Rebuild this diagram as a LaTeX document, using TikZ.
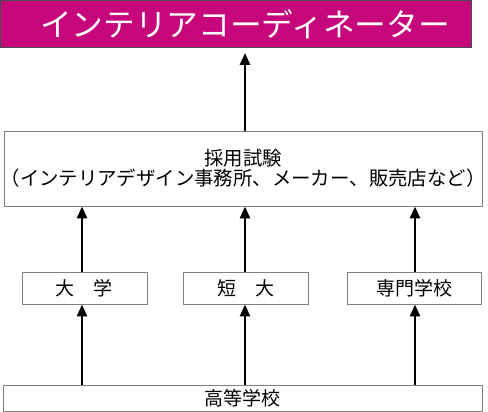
\documentclass[tikz,border=0pt]{standalone}
\usepackage{fontspec}
\setmainfont{Noto Sans CJK JP}
\usetikzlibrary{arrows.meta}
\definecolor{titlemag}{HTML}{C6077B}
\definecolor{boxline}{HTML}{808080}
\begin{document}
\begin{tikzpicture}[x=1pt,y=-1pt,
  box/.style={draw=boxline, line width=0.9pt, fill=white, inner sep=0pt, align=center,
    font=\fontsize{19}{21}\selectfont},
  arr/.style={line width=2.6pt, -{Triangle[width=10pt,length=12pt]}}]
\useasboundingbox (0,0) rectangle (488,412);
\node[box, fill=titlemag, draw=black!70, minimum width=471pt, minimum height=47pt,
  text=white, font=\fontsize{31.7}{34}\selectfont] (title) at (236,24)
  {\hspace*{18pt}インテリアコーディネーター};
\node[box, minimum width=478pt, minimum height=75pt, font=\fontsize{19.4}{20.5}\selectfont] (saiyo) at (243,168.5)
  {採用試験\\\makebox[0pt]{（インテリアデザイン事務所、メーカー、販売店など）}};
\node[box, minimum width=125pt, minimum height=32pt] (daigaku) at (84.5,288) {大　学};
\node[box, minimum width=125pt, minimum height=32pt] (tandai) at (245.5,288) {短　大};
\node[box, minimum width=134pt, minimum height=32pt] (senmon) at (414,288) {専門学校};
\node[box, minimum width=479pt, minimum height=26pt] (koko) at (242.5,398) {高等学校};
\draw[arr, shorten >=5pt] (saiyo.north -| 245,0) -- (title.south -| 245,0);
\draw[arr] (daigaku.north -| 82,0) -- (saiyo.south -| 82,0);
\draw[arr] (tandai.north -| 245,0) -- (saiyo.south -| 245,0);
\draw[arr] (senmon.north -| 415,0) -- (saiyo.south -| 415,0);
\draw[arr] (koko.north -| 82,0) -- (daigaku.south -| 82,0);
\draw[arr] (koko.north -| 245,0) -- (tandai.south -| 245,0);
\draw[arr] (koko.north -| 415,0) -- (senmon.south -| 415,0);
\end{tikzpicture}
\end{document}
